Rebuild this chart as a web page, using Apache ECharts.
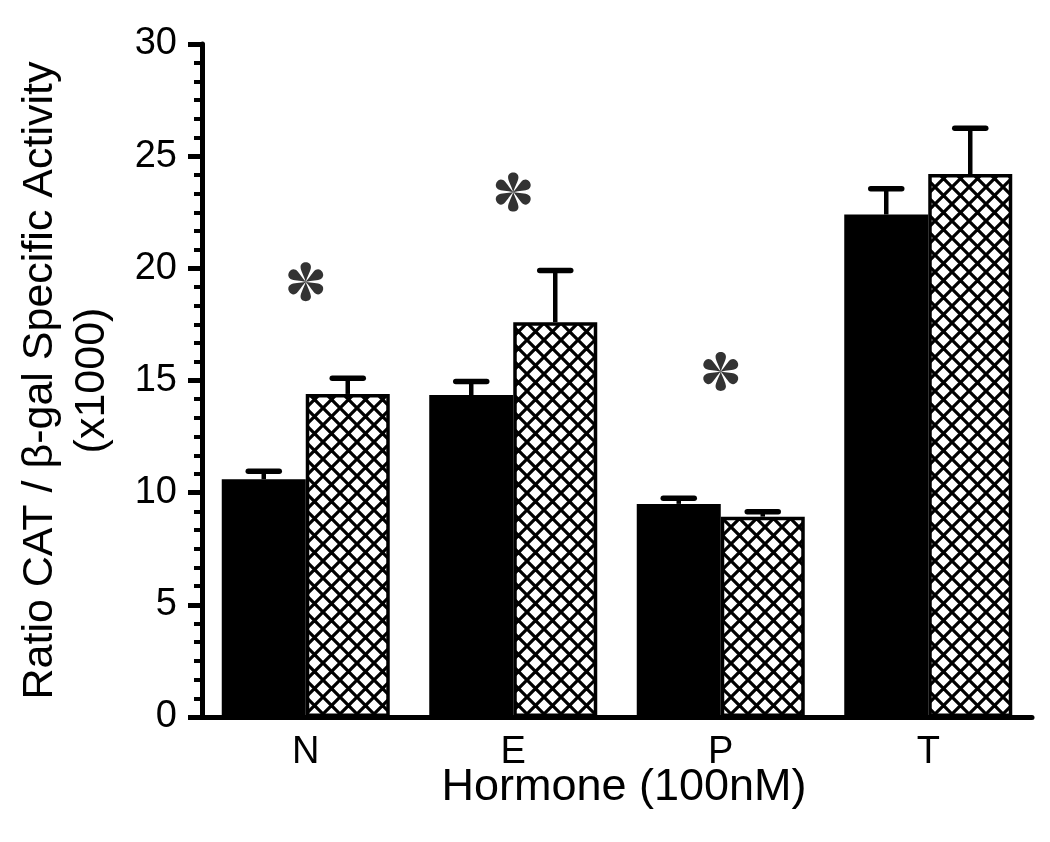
<!DOCTYPE html>
<html>
<head>
<meta charset="utf-8">
<script src="https://cdn.jsdelivr.net/npm/echarts@6/dist/echarts.min.js"></script>
<style>
html,body{margin:0;padding:0;background:#fff;}
#chart{width:1050px;height:842px;}
</style>
</head>
<body>
<div id="chart"></div>
<script>
// ---- data ----
const categories = ['N', 'E', 'P', 'T'];
const solidValues = [10.6, 14.35, 9.5, 22.4];
const solidErrors = [0.35, 0.6, 0.25, 1.15];
const hatchValues = [14.4, 17.6, 8.93, 24.2];
const hatchErrors = [0.7, 2.3, 0.22, 2.05];
const asteriskValues = [19.4, 23.4, 15.4, null];
const yTicks = [0, 5, 10, 15, 20, 25, 30];

// ---- styles ----
const BAR_W = 84;
const FONT = 'Liberation Sans, Arial, Helvetica, sans-serif';

function makeHatch() {
  const s = 17;
  const c = document.createElement('canvas');
  c.width = s; c.height = s;
  const g = c.getContext('2d');
  g.fillStyle = '#fff';
  g.fillRect(0, 0, s, s);
  g.strokeStyle = '#000';
  g.lineWidth = 3.2;
  g.beginPath();
  for (const k of [-s, 0, s]) {
    g.moveTo(-4, -4 + k); g.lineTo(s + 4, s + 4 + k);
    g.moveTo(-4, s + 4 + k); g.lineTo(s + 4, -4 + k);
  }
  g.stroke();
  return c;
}

function asteriskPath() {
  const petal = [[0,0],[-0.09,-0.3],[-0.27,-0.58],[-0.27,-0.76],[-0.27,-0.91],[-0.15,-1.0],[0,-1.0],[0.15,-1.0],[0.27,-0.91],[0.27,-0.76],[0.27,-0.58],[0.09,-0.3],[0,0]];
  let d = '';
  for (let i = 0; i < 6; i++) {
    const a = i * Math.PI / 3;
    const ca = Math.cos(a), sa = Math.sin(a);
    const p = petal.map(([x, y]) => [(x * ca - y * sa) * 50 + 50, (x * sa + y * ca) * 50 + 50].map(v => v.toFixed(2)));
    d += 'M' + p[0].join(' ');
    for (let j = 1; j < p.length; j += 3) {
      d += 'C' + p[j].join(' ') + ' ' + p[j+1].join(' ') + ' ' + p[j+2].join(' ');
    }
    d += 'Z';
  }
  return 'path://' + d;
}

function errorSeries(values, errors, side) {
  return {
    type: 'custom',
    z: 5,
    data: values.map((v, i) => [i, v, errors[i]]),
    renderItem: function (params, api) {
      const cx = api.coord([api.value(0), 0])[0] + side * BAR_W / 2;
      const yBase = api.coord([api.value(0), api.value(1)])[1];
      const yTop = api.coord([api.value(0), api.value(1) + api.value(2)])[1];
      const half = 15.5;
      return {
        type: 'group',
        children: [
          { type: 'line', shape: { x1: cx, y1: yBase, x2: cx, y2: yTop + 2 }, style: { stroke: '#000', lineWidth: 4.5 } },
          { type: 'line', shape: { x1: cx - half, y1: yTop, x2: cx + half, y2: yTop }, style: { stroke: '#000', lineWidth: 5.5, lineCap: 'round' } }
        ]
      };
    }
  };
}

const chart = echarts.init(document.getElementById('chart'), null, { renderer: 'canvas' });
chart.setOption({
  backgroundColor: '#fff',
  animation: false,
  textStyle: { fontFamily: FONT },
  grid: { left: 202, right: 18, top: 44, bottom: 125, containLabel: false },
  xAxis: {
    type: 'category',
    data: categories,
    axisLine: { show: true, lineStyle: { color: '#000', width: 5 } },
    axisTick: { show: false },
    axisLabel: { color: '#000', fontSize: 38, fontFamily: FONT, margin: 17 },
    name: 'Hormone (100nM)',
    nameLocation: 'middle',
    nameGap: 48,
    nameMoveOverlap: false,
    nameTextStyle: { color: '#000', fontSize: 45, fontFamily: FONT, padding: [0, 0, 0, 14] }
  },
  yAxis: {
    type: 'value',
    min: yTicks[0],
    max: yTicks[yTicks.length - 1],
    interval: yTicks[1] - yTicks[0],
    axisLine: { show: true, lineStyle: { color: '#000', width: 5 } },
    axisTick: { show: true, length: 14, lineStyle: { color: '#000', width: 5 } },
    minorTick: { show: true, splitNumber: 6, length: 8, lineStyle: { color: '#000', width: 4 } },
    splitLine: { show: false },
    axisLabel: { color: '#000', fontSize: 38, fontFamily: FONT, margin: 25 },
    name: 'Ratio CAT / \u03B2-gal Specific Activity\n(x1000)',
    nameLocation: 'middle',
    nameGap: 84,
    nameRotate: 90,
    nameMoveOverlap: false,
    nameTextStyle: { color: '#000', fontSize: 43, fontFamily: FONT, lineHeight: 52, align: 'center' }
  },
  series: [
    {
      type: 'bar',
      data: solidValues,
      barWidth: BAR_W,
      barGap: '0%',
      itemStyle: { color: '#000', borderColor: '#000', borderWidth: 3 }
    },
    {
      type: 'bar',
      data: hatchValues,
      barWidth: BAR_W,
      barGap: '0%',
      itemStyle: { color: { image: makeHatch(), repeat: 'repeat' }, borderColor: '#000', borderWidth: 3.5 }
    },
    errorSeries(solidValues, solidErrors, -1),
    errorSeries(hatchValues, hatchErrors, 1),
    {
      type: 'scatter',
      data: asteriskValues,
      symbol: asteriskPath(),
      symbolSize: [35, 39],
      itemStyle: { color: '#000' },
      z: 6
    }
  ]
});
</script>
</body>
</html>
